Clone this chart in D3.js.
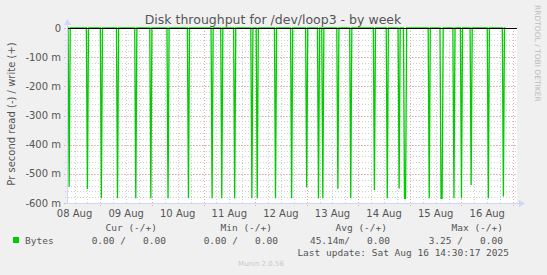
<!DOCTYPE html>
<html>
<head>
<meta charset="utf-8">
<script src="https://cdn.jsdelivr.net/npm/d3@7"></script>
<style>
  body { margin: 0; background: #f0f0f0; }
  svg { display: block; }
  text { font-family: "DejaVu Sans", sans-serif; fill: #555; }
  .mono { font-family: "DejaVu Sans Mono", monospace; white-space: pre; }
</style>
</head>
<body>
<div id="chart"></div>
<script>
// spikes of the read series (bytes per second, drawn as negative)
const spikeTimes = [
  "2025-08-08 09:30", "2025-08-08 18:00", "2025-08-09 00:30", "2025-08-09 08:00",
  "2025-08-09 16:30", "2025-08-09 23:30", "2025-08-10 07:30", "2025-08-10 17:00",
  "2025-08-11 04:00", "2025-08-11 08:30", "2025-08-11 14:30", "2025-08-11 22:30",
  "2025-08-12 01:00", "2025-08-12 09:30", "2025-08-12 17:00", "2025-08-13 00:00",
  "2025-08-13 05:30", "2025-08-13 07:30", "2025-08-13 14:30", "2025-08-13 20:30",
  "2025-08-14 07:30", "2025-08-14 13:30", "2025-08-14 19:00", "2025-08-14 21:30",
  "2025-08-14 22:00", "2025-08-15 09:00", "2025-08-15 14:30", "2025-08-15 15:00",
  "2025-08-15 20:30", "2025-08-16 00:00", "2025-08-16 04:30", "2025-08-16 12:30",
  "2025-08-16 19:30"
];
const readValues = [
  -0.544, -0.552, -0.584, -0.584,
  -0.584, -0.584, -0.584, -0.584,
  -0.584, -0.584, -0.584, -0.584,
  -0.584, -0.584, -0.584, -0.546,
  -0.584, -0.584, -0.551, -0.584,
  -0.555, -0.584, -0.550, -0.584,
  -0.584, -0.584, -0.584, -0.584,
  -0.584, -0.584, -0.538, -0.584,
  -0.578
];
const yTicks = [0, -0.1, -0.2, -0.3, -0.4, -0.5, -0.6];
const legendHeaders = ["Cur (-/+)", "Min (-/+)", "Avg (-/+)", "Max (-/+)"];
const legendValues = ["0.00 /   0.00", "0.00 /   0.00", "45.14m/   0.00", "3.25 /   0.00"];

const width = 547;
const height = 275;
const parseTime = d3.timeParse("%Y-%m-%d %H:%M");
const step = 30 * 60 * 1000;

const svg = d3
  .select("#chart")
  .append("svg")
  .attr("width", width)
  .attr("height", height);

svg.append("rect").attr("width", width).attr("height", height).attr("fill", "#f0f0f0");

const x = d3
  .scaleTime()
  .domain([parseTime("2025-08-08 08:30"), parseTime("2025-08-17 01:50")])
  .range([67, 517]);

const y = d3.scaleLinear().domain([-0.6, 0]).range([203, 28]);

// canvas
svg.append("rect")
  .attr("x", 67).attr("y", 28)
  .attr("width", 450).attr("height", 175)
  .attr("fill", "#fff");

const grid = svg.append("g").attr("shape-rendering", "crispEdges");

// minor grid
grid.selectAll(".vminor")
  .data(x.ticks(d3.timeHour.every(6)))
  .enter()
  .append("line")
  .attr("x1", (d) => Math.round(x(d)) + 0.5)
  .attr("x2", (d) => Math.round(x(d)) + 0.5)
  .attr("y1", 28)
  .attr("y2", 205)
  .attr("stroke", "#d0d0d0")
  .attr("stroke-dasharray", "1,2");

grid.selectAll(".hminor")
  .data(d3.range(-0.6, 0.001, 0.02))
  .enter()
  .append("line")
  .attr("x1", 65)
  .attr("x2", 517)
  .attr("y1", (d) => Math.round(y(d)) + 0.5)
  .attr("y2", (d) => Math.round(y(d)) + 0.5)
  .attr("stroke", "#d0d0d0")
  .attr("stroke-dasharray", "1,2");

// major grid
grid.selectAll(".vmajor")
  .data(x.ticks(d3.timeDay))
  .enter()
  .append("line")
  .attr("x1", (d) => Math.round(x(d)) + 0.5)
  .attr("x2", (d) => Math.round(x(d)) + 0.5)
  .attr("y1", 28)
  .attr("y2", 206)
  .attr("stroke", "#e8a8a8")
  .attr("stroke-dasharray", "1,2");

grid.selectAll(".hmajor")
  .data(yTicks)
  .enter()
  .append("line")
  .attr("x1", 64)
  .attr("x2", 517)
  .attr("y1", (d) => Math.round(y(d)) + 0.5)
  .attr("y2", (d) => Math.round(y(d)) + 0.5)
  .attr("stroke", "#e8a8a8")
  .attr("stroke-dasharray", "1,2");

// build the read series: zero except around the spikes
const samples = spikeTimes.map((t, i) => ({ t: parseTime(t), v: readValues[i] }));
const points = [{ t: x.domain()[0], v: 0 }];
samples.forEach((s, i) => {
  const prev = samples[i - 1];
  const next = samples[i + 1];
  if (!prev || s.t - prev.t > step) points.push({ t: new Date(+s.t - step), v: 0 });
  points.push(s);
  if (!next || next.t - s.t > step) points.push({ t: new Date(+s.t + step), v: 0 });
});
points.push({ t: parseTime("2025-08-16 20:30"), v: 0 });

const line = d3.line().x((d) => x(d.t)).y((d) => y(d.v));

svg.append("path")
  .datum(points)
  .attr("d", line)
  .attr("fill", "none")
  .attr("stroke", "#00cc00")
  .attr("stroke-width", 1.3);

// zero line
svg.append("line")
  .attr("x1", 67).attr("x2", 517)
  .attr("y1", 28.5).attr("y2", 28.5)
  .attr("stroke", "#000")
  .attr("shape-rendering", "crispEdges");

// axes
const axisColor = "#cfd6f8";
svg.append("line")
  .attr("x1", 67.5).attr("x2", 67.5)
  .attr("y1", 24).attr("y2", 204)
  .attr("stroke", axisColor)
  .attr("shape-rendering", "crispEdges");
svg.append("line")
  .attr("x1", 66).attr("x2", 520)
  .attr("y1", 203.5).attr("y2", 203.5)
  .attr("stroke", axisColor)
  .attr("shape-rendering", "crispEdges");
svg.append("path")
  .attr("d", "M64,25 L71,25 L67.5,19 Z")
  .attr("fill", axisColor);
svg.append("path")
  .attr("d", "M519,200 L519,207 L525,203.5 Z")
  .attr("fill", axisColor);

// y tick labels
svg.selectAll(".ylab")
  .data(yTicks)
  .enter()
  .append("text")
  .attr("x", 61)
  .attr("y", (d) => y(d) + 3.5)
  .attr("text-anchor", "end")
  .style("font-size", "10px")
  .text((d) => (d === 0 ? "0" : `${Math.round(d * 1000)} m`));

// x tick labels at noon
svg.selectAll(".xlab")
  .data(d3.timeDay.range(parseTime("2025-08-08 00:00"), parseTime("2025-08-17 00:00")))
  .enter()
  .append("text")
  .attr("x", (d) => x(d3.timeHour.offset(d, 12)))
  .attr("y", 216.5)
  .attr("text-anchor", "middle")
  .style("font-size", "10px")
  .text(d3.timeFormat("%d %b"));

// title
svg.append("text")
  .attr("x", 273)
  .attr("y", 24)
  .attr("text-anchor", "middle")
  .style("font-size", "12.5px")
  .text("Disk throughput for /dev/loop3 - by week");

// y axis label
svg.append("text")
  .attr("transform", "translate(15,114) rotate(-90)")
  .attr("text-anchor", "middle")
  .style("font-size", "10px")
  .text("Pr second read (-) / write (+)");

// rrdtool credit
svg.append("text")
  .attr("transform", "translate(535,5) rotate(90)")
  .style("font-size", "7.5px")
  .style("fill", "#bbb")
  .text("RRDTOOL / TOBI OETIKER");

// legend
const legendRight = [157, 272, 387, 503];
svg.selectAll(".lhead")
  .data(legendHeaders)
  .enter()
  .append("text")
  .attr("class", "mono")
  .attr("x", (d, i) => legendRight[i])
  .attr("y", 230.5)
  .attr("text-anchor", "end")
  .style("font-size", "9.5px")
  .text((d) => d);

svg.append("rect")
  .attr("x", 13).attr("y", 237)
  .attr("width", 6).attr("height", 6)
  .attr("fill", "#00cc00");
svg.append("text")
  .attr("class", "mono")
  .attr("x", 25)
  .attr("y", 243.5)
  .style("font-size", "9.5px")
  .text("Bytes");

const valueRight = [166, 278, 390, 503];
svg.selectAll(".lval")
  .data(legendValues)
  .enter()
  .append("text")
  .attr("class", "mono")
  .attr("x", (d, i) => valueRight[i])
  .attr("y", 243.5)
  .attr("text-anchor", "end")
  .style("font-size", "9.5px")
  .text((d) => d);

svg.append("text")
  .attr("class", "mono")
  .attr("x", 509)
  .attr("y", 255.5)
  .attr("text-anchor", "end")
  .style("font-size", "9.5px")
  .text("Last update: Sat Aug 16 14:30:17 2025");

svg.append("text")
  .attr("x", 261)
  .attr("y", 266)
  .attr("text-anchor", "middle")
  .style("font-size", "7px")
  .style("fill", "#c8c8c8")
  .text("Munin 2.0.56");
</script>
</body>
</html>
